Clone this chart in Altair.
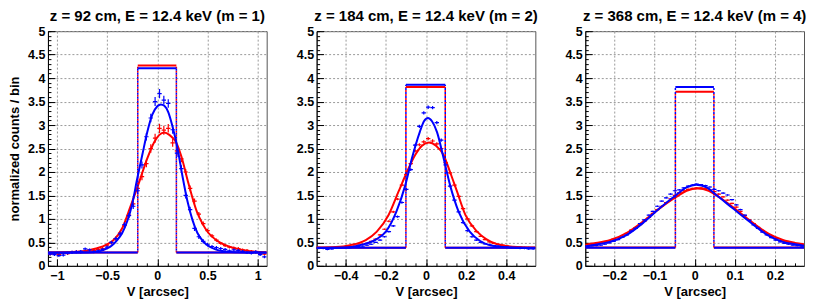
import altair as alt
import pandas as pd

FONT = "Liberation Sans"
RED = "#ff0000"
BLUE = "#0000ff"

TITLES = ["z = 92 cm, E = 12.4 keV (m = 1)",
          "z = 184 cm, E = 12.4 keV (m = 2)",
          "z = 368 cm, E = 12.4 keV (m = 4)"]
Y_TITLE = "normalized counts / bin"
X_TITLE = "V [arcsec]"

X_HALF_RANGE = [1.09, 0.545, 0.2725]
BIN_WIDTH = [0.0436, 0.0218, 0.0109]

X_TICKS = [[-1, -0.5, 0, 0.5, 1],
           [-0.4, -0.2, 0, 0.2, 0.4],
           [-0.2, -0.1, 0, 0.1, 0.2]]
X_MINOR = [[-1.0, -0.9, -0.8, -0.7, -0.6, -0.5, -0.4, -0.3, -0.2, -0.1, 0, 0.1, 0.2, 0.3, 0.4, 0.5, 0.6, 0.7, 0.8, 0.9, 1.0],
           [-0.5, -0.45, -0.4, -0.35, -0.3, -0.25, -0.2, -0.15, -0.1, -0.05, 0, 0.05, 0.1, 0.15, 0.2, 0.25, 0.3, 0.35, 0.4, 0.45, 0.5],
           [-0.25, -0.225, -0.2, -0.175, -0.15, -0.125, -0.1, -0.075, -0.05, -0.025, 0, 0.025, 0.05, 0.075, 0.1, 0.125, 0.15, 0.175, 0.2, 0.225, 0.25]]
Y_TICKS = [0, 0.5, 1, 1.5, 2, 2.5, 3, 3.5, 4, 4.5, 5]
Y_MINOR = [round(k / 10, 1) for k in range(51)]

# bin centres
P1_X = [-1.068, -1.025, -0.981, -0.937, -0.894, -0.850, -0.807, -0.763, -0.719, -0.676,
        -0.632, -0.589, -0.545, -0.501, -0.458, -0.414, -0.371, -0.327, -0.283, -0.240,
        -0.196, -0.153, -0.109, -0.065, -0.022, 0.022, 0.065, 0.109, 0.153, 0.196,
        0.240, 0.283, 0.327, 0.371, 0.414, 0.458, 0.501, 0.545, 0.589, 0.632,
        0.676, 0.719, 0.763, 0.807, 0.850, 0.894, 0.937, 0.981, 1.025, 1.068]
P2_X = [-0.534, -0.512, -0.491, -0.469, -0.447, -0.425, -0.403, -0.381, -0.360, -0.338,
        -0.316, -0.294, -0.273, -0.251, -0.229, -0.207, -0.185, -0.163, -0.142, -0.120,
        -0.098, -0.076, -0.054, -0.033, -0.011, 0.011, 0.033, 0.054, 0.076, 0.098,
        0.120, 0.142, 0.163, 0.185, 0.207, 0.229, 0.251, 0.273, 0.294, 0.316,
        0.338, 0.360, 0.381, 0.403, 0.425, 0.447, 0.469, 0.491, 0.512, 0.534]
P3_X = [-0.267, -0.256, -0.245, -0.234, -0.224, -0.213, -0.202, -0.191, -0.180, -0.169,
        -0.158, -0.147, -0.136, -0.125, -0.114, -0.104, -0.093, -0.082, -0.071, -0.060,
        -0.049, -0.038, -0.027, -0.016, -0.005, 0.005, 0.016, 0.027, 0.038, 0.049,
        0.060, 0.071, 0.082, 0.093, 0.104, 0.114, 0.125, 0.136, 0.147, 0.158,
        0.169, 0.180, 0.191, 0.202, 0.213, 0.224, 0.234, 0.245, 0.256, 0.267]

# histogram contents
P1_BLUE = [0.25, 0.24, 0.22, 0.23, 0.27, 0.29, 0.30, 0.31, 0.36, 0.34,
           0.30, 0.32, 0.35, 0.40, 0.50, 0.58, 0.68, 0.88, 1.07, 1.27,
           1.60, 2.15, 2.75, 3.15, 3.50, 3.67, 3.53, 3.46, 2.90, 2.40,
           2.07, 1.50, 1.20, 0.80, 0.62, 0.52, 0.45, 0.41, 0.39, 0.37,
           0.35, 0.32, 0.34, 0.33, 0.31, 0.28, 0.27, 0.30, 0.24, 0.19]
P1_RED = [0.25, 0.26, 0.24, 0.27, 0.26, 0.29, 0.30, 0.29, 0.31, 0.32,
          0.33, 0.35, 0.37, 0.44, 0.49, 0.58, 0.70, 0.86, 1.08, 1.32,
          1.65, 1.90, 2.18, 2.50, 2.72, 2.93, 2.89, 2.93, 2.62, 2.45,
          2.28, 2.00, 1.65, 1.38, 1.10, 0.90, 0.75, 0.64, 0.55, 0.48,
          0.43, 0.40, 0.38, 0.37, 0.34, 0.33, 0.31, 0.29, 0.27, 0.25]
P2_BLUE = [0.37, 0.37, 0.35, 0.36, 0.38, 0.38, 0.38, 0.39, 0.40, 0.41,
           0.42, 0.44, 0.46, 0.50, 0.55, 0.62, 0.73, 0.85, 1.05, 1.35,
           1.63, 2.05, 2.57, 2.97, 3.26, 3.38, 3.37, 3.05, 2.68, 2.15,
           1.70, 1.40, 1.15, 0.92, 0.75, 0.62, 0.55, 0.50, 0.47, 0.45,
           0.43, 0.42, 0.41, 0.40, 0.39, 0.38, 0.37, 0.37, 0.36, 0.36]
P2_RED = [0.38, 0.38, 0.38, 0.39, 0.39, 0.40, 0.40, 0.41, 0.42, 0.44,
          0.46, 0.48, 0.52, 0.57, 0.66, 0.78, 0.95, 1.15, 1.42, 1.72,
          1.95, 2.18, 2.45, 2.58, 2.64, 2.71, 2.66, 2.60, 2.50, 2.20,
          1.98, 1.72, 1.48, 1.22, 1.00, 0.85, 0.73, 0.63, 0.56, 0.51,
          0.48, 0.46, 0.44, 0.42, 0.41, 0.40, 0.40, 0.39, 0.39, 0.38]
P3_BLUE = [0.41, 0.40, 0.43, 0.44, 0.46, 0.49, 0.52, 0.56, 0.61, 0.66,
           0.74, 0.80, 0.90, 0.98, 1.08, 1.16, 1.27, 1.38, 1.45, 1.53,
           1.60, 1.62, 1.66, 1.70, 1.72, 1.74, 1.73, 1.71, 1.68, 1.63,
           1.60, 1.55, 1.51, 1.41, 1.30, 1.20, 1.08, 0.97, 0.87, 0.80,
           0.72, 0.66, 0.60, 0.55, 0.51, 0.48, 0.46, 0.44, 0.43, 0.42]
P3_RED = [0.45, 0.46, 0.47, 0.49, 0.51, 0.53, 0.57, 0.60, 0.64, 0.69,
          0.76, 0.81, 0.88, 0.95, 1.03, 1.12, 1.20, 1.27, 1.35, 1.43,
          1.50, 1.56, 1.60, 1.63, 1.65, 1.66, 1.66, 1.65, 1.62, 1.58,
          1.53, 1.47, 1.40, 1.33, 1.25, 1.16, 1.07, 0.98, 0.90, 0.82,
          0.75, 0.68, 0.63, 0.58, 0.54, 0.51, 0.49, 0.47, 0.46, 0.45]

# statistical errors per bin
ERR_P1 = [0.03, 0.03, 0.03, 0.03, 0.03, 0.03, 0.03, 0.03, 0.03, 0.03,
          0.03, 0.03, 0.03, 0.035, 0.037, 0.04, 0.045, 0.05, 0.055, 0.06,
          0.07, 0.075, 0.08, 0.09, 0.095, 0.1, 0.095, 0.09, 0.085, 0.08,
          0.075, 0.065, 0.06, 0.055, 0.05, 0.045, 0.04, 0.037, 0.035, 0.03,
          0.03, 0.03, 0.03, 0.03, 0.03, 0.03, 0.03, 0.03, 0.03, 0.03]
ERR_P2 = [0.015, 0.015, 0.015, 0.015, 0.015, 0.015, 0.015, 0.015, 0.015, 0.015,
          0.015, 0.015, 0.015, 0.015, 0.017, 0.018, 0.02, 0.022, 0.024, 0.026,
          0.028, 0.03, 0.032, 0.034, 0.035, 0.036, 0.036, 0.035, 0.034, 0.032,
          0.03, 0.028, 0.026, 0.024, 0.022, 0.02, 0.018, 0.017, 0.015, 0.015,
          0.015, 0.015, 0.015, 0.015, 0.015, 0.015, 0.015, 0.015, 0.015, 0.015]
ERR_P3 = [0.012, 0.012, 0.012, 0.012, 0.012, 0.012, 0.012, 0.012, 0.012, 0.012,
          0.012, 0.012, 0.013, 0.013, 0.014, 0.014, 0.015, 0.015, 0.016, 0.016,
          0.016, 0.016, 0.016, 0.016, 0.016, 0.016, 0.016, 0.016, 0.016, 0.016,
          0.016, 0.016, 0.015, 0.015, 0.014, 0.014, 0.013, 0.013, 0.012, 0.012,
          0.012, 0.012, 0.012, 0.012, 0.012, 0.012, 0.012, 0.012, 0.012, 0.012]

# fitted curves
C1_BLUE_X = [-1.09, -0.70, -0.60, -0.50, -0.45, -0.40, -0.35, -0.30, -0.25, -0.20, -0.15, -0.10, -0.05, 0.00, 0.035, 0.07, 0.11, 0.15, 0.20, 0.25, 0.30, 0.35, 0.40, 0.45, 0.50, 0.58, 0.70, 0.80, 1.09]
C1_BLUE_Y = [0.28, 0.285, 0.30, 0.37, 0.44, 0.55, 0.70, 0.95, 1.32, 1.86, 2.36, 2.85, 3.22, 3.40, 3.44, 3.41, 3.27, 2.98, 2.52, 1.92, 1.38, 0.98, 0.70, 0.54, 0.44, 0.35, 0.30, 0.29, 0.28]
C1_RED_X = [-1.09, -0.80, -0.61, -0.50, -0.43, -0.35, -0.27, -0.18, -0.10, -0.03, 0.02, 0.07, 0.12, 0.19, 0.24, 0.31, 0.395, 0.45, 0.51, 0.60, 0.68, 0.87, 1.09]
C1_RED_Y = [0.28, 0.30, 0.37, 0.46, 0.56, 0.80, 1.25, 1.79, 2.29, 2.64, 2.79, 2.84, 2.79, 2.62, 2.33, 1.76, 1.15, 0.90, 0.70, 0.53, 0.44, 0.33, 0.29]
C2_BLUE_X = [-0.55, -0.40, -0.33, -0.25, -0.20, -0.148, -0.103, -0.07, -0.031, -0.01, 0.01, 0.03, 0.055, 0.088, 0.12, 0.163, 0.218, 0.27, 0.32, 0.42, 0.55]
C2_BLUE_Y = [0.38, 0.39, 0.44, 0.56, 0.73, 1.15, 1.72, 2.29, 2.85, 3.08, 3.15, 3.08, 2.85, 2.29, 1.72, 1.15, 0.73, 0.53, 0.44, 0.39, 0.38]
C2_RED_X = [-0.55, -0.45, -0.378, -0.30, -0.245, -0.187, -0.137, -0.095, -0.054, -0.02, 0.015, 0.05, 0.088, 0.12, 0.155, 0.197, 0.255, 0.30, 0.355, 0.455, 0.55]
C2_RED_Y = [0.39, 0.40, 0.44, 0.55, 0.73, 1.08, 1.58, 2.00, 2.36, 2.56, 2.63, 2.56, 2.36, 2.00, 1.58, 1.08, 0.73, 0.57, 0.46, 0.40, 0.39]
C3_BLUE_X = [-0.2725, -0.262, -0.235, -0.208, -0.171, -0.125, -0.088, -0.046, -0.02, 0.004, 0.03, 0.054, 0.096, 0.137, 0.183, 0.22, 0.25, 0.2725]
C3_BLUE_Y = [0.42, 0.43, 0.47, 0.52, 0.65, 0.94, 1.22, 1.51, 1.67, 1.73, 1.67, 1.51, 1.22, 0.94, 0.65, 0.51, 0.46, 0.43]
C3_RED_X = [-0.2725, -0.25, -0.21, -0.17, -0.125, -0.088, -0.046, -0.02, 0.008, 0.035, 0.06, 0.1, 0.14, 0.185, 0.22, 0.25, 0.2725]
C3_RED_Y = [0.45, 0.48, 0.55, 0.70, 0.97, 1.22, 1.47, 1.60, 1.65, 1.60, 1.47, 1.22, 0.95, 0.68, 0.55, 0.49, 0.46]

# top-hat (geometric) profiles
HAT_LEFT = [-0.195, -0.100, -0.048]
HAT_RIGHT = [0.190, 0.096, 0.048]
HAT_BASE_BLUE = [0.285, 0.385, 0.385]
HAT_BASE_RED = [0.285, 0.385, 0.39]
HAT_TOP_BLUE = [4.21, 3.86, 3.81]
HAT_TOP_RED = [4.27, 3.81, 3.71]

CENTERS = [P1_X, P2_X, P3_X]
BLUE_VALS = [P1_BLUE, P2_BLUE, P3_BLUE]
RED_VALS = [P1_RED, P2_RED, P3_RED]
ERRS = [ERR_P1, ERR_P2, ERR_P3]
CURVES_BLUE = [(C1_BLUE_X, C1_BLUE_Y), (C2_BLUE_X, C2_BLUE_Y), (C3_BLUE_X, C3_BLUE_Y)]
CURVES_RED = [(C1_RED_X, C1_RED_Y), (C2_RED_X, C2_RED_Y), (C3_RED_X, C3_RED_Y)]

W, H = 219, 235
LABEL = dict(labelFont=FONT, labelFontSize=12.5, labelFontWeight="bold", labelColor="black")
TITLEF = dict(titleFont=FONT, titleFontSize=13, titleFontWeight="bold", titleColor="black")


def tick_axis(orient, values, size):
    return alt.Axis(orient=orient, values=values, labels=False, grid=False, domain=False,
                    ticks=True, tickSize=size, tickColor="black", tickWidth=1,
                    offset=-size, title=None)


def make_panel(i):
    R = X_HALF_RANGE[i]
    hw = BIN_WIDTH[i] / 2
    xs = alt.Scale(domain=[-R, R], nice=False, zero=False)
    ys = alt.Scale(domain=[0, 5], nice=False, zero=False)

    pts = pd.DataFrame({"x": CENTERS[i], "v": BLUE_VALS[i]})

    x_main = alt.Axis(orient="bottom", values=X_TICKS[i], format="~g", grid=True,
                      gridDash=[2, 2], gridColor="#9a9a9a", gridWidth=1, ticks=False,
                      domain=True, domainColor="black", domainWidth=1, labelPadding=4,
                      labelFlush=False, labelOverlap=False, title=X_TITLE, titlePadding=3,
                      **LABEL, **TITLEF)
    y_kw = dict(orient="left", values=Y_TICKS, format="~g", grid=True,
                gridDash=[2, 2], gridColor="#9a9a9a", gridWidth=1, ticks=False,
                domain=True, domainColor="black", domainWidth=1, labelPadding=3,
                labelFlush=False, labelOverlap=False, **LABEL, **TITLEF)
    if i == 0:
        y_main = alt.Axis(title=Y_TITLE, titlePadding=6, **y_kw)
    else:
        y_main = alt.Axis(title=None, **y_kw)

    layers = [
        alt.Chart(pts).mark_point(opacity=0).encode(
            x=alt.X("x:Q", scale=xs, axis=x_main),
            y=alt.Y("v:Q", scale=ys, axis=y_main)),
        alt.Chart(pts).mark_point(opacity=0).encode(
            x=alt.X("x:Q", scale=xs, axis=tick_axis("bottom", X_TICKS[i], 7)),
            y=alt.Y("v:Q", scale=ys, axis=tick_axis("left", Y_TICKS, 7))),
        alt.Chart(pts).mark_point(opacity=0).encode(
            x=alt.X("x:Q", scale=xs, axis=tick_axis("bottom", X_MINOR[i], 3)),
            y=alt.Y("v:Q", scale=ys, axis=tick_axis("left", Y_MINOR, 3))),
    ]

    series = [
        (RED, RED_VALS[i], CURVES_RED[i], HAT_BASE_RED[i], HAT_TOP_RED[i], 0),
        (BLUE, BLUE_VALS[i], CURVES_BLUE[i], HAT_BASE_BLUE[i], HAT_TOP_BLUE[i], 2),
    ]
    for color, vals, (cx, cy), base, top, dash_off in series:
        L, Rr = HAT_LEFT[i], HAT_RIGHT[i]
        hat_h = pd.DataFrame({"x": [-R, L, Rr], "x2": [L, Rr, R], "y": [base, top, base]})
        hat_v = pd.DataFrame({"x": [L, Rr], "y": [base, base], "y2": [top, top]})
        d = pd.DataFrame({"x": CENTERS[i], "v": vals, "e": ERRS[i]})
        d["xlo"] = d["x"] - hw
        d["xhi"] = d["x"] + hw
        d["lo"] = d["v"] - d["e"]
        d["hi"] = d["v"] + d["e"]
        curve = pd.DataFrame({"x": cx, "y": cy})

        layers += [
            alt.Chart(hat_v).mark_rule(color=color, strokeWidth=1.5, strokeDash=[2, 2],
                                       strokeDashOffset=dash_off, clip=True).encode(
                x=alt.X("x:Q", scale=xs, axis=None),
                y=alt.Y("y:Q", scale=ys, axis=None), y2="y2:Q"),
            alt.Chart(hat_h).mark_rule(color=color, strokeWidth=2, clip=True).encode(
                x=alt.X("x:Q", scale=xs, axis=None), x2="x2:Q",
                y=alt.Y("y:Q", scale=ys, axis=None)),
            alt.Chart(d).mark_rule(color=color, strokeWidth=1.2, clip=True).encode(
                x=alt.X("xlo:Q", scale=xs, axis=None), x2="xhi:Q",
                y=alt.Y("v:Q", scale=ys, axis=None)),
            alt.Chart(d).mark_rule(color=color, strokeWidth=1.2, clip=True).encode(
                x=alt.X("x:Q", scale=xs, axis=None),
                y=alt.Y("lo:Q", scale=ys, axis=None), y2="hi:Q"),
            alt.Chart(curve).mark_line(color=color, strokeWidth=2, interpolate="monotone",
                                       clip=True).encode(
                x=alt.X("x:Q", scale=xs, axis=None),
                y=alt.Y("y:Q", scale=ys, axis=None)),
        ]

    return alt.layer(*layers).resolve_axis(x="independent", y="independent").properties(
        width=W, height=H,
        title=alt.TitleParams(TITLES[i], font=FONT, fontSize=15, fontWeight="bold",
                              color="black", anchor="middle", offset=1))


chart = alt.hconcat(make_panel(0), make_panel(1), make_panel(2),
                    spacing=50, bounds="flush").properties(
    padding={"left": 0, "top": 0, "right": 0, "bottom": 0}
).configure_view(stroke="#555555", strokeWidth=1)

chart.save("out.html", embed_options={"renderer": "svg", "actions": False})
